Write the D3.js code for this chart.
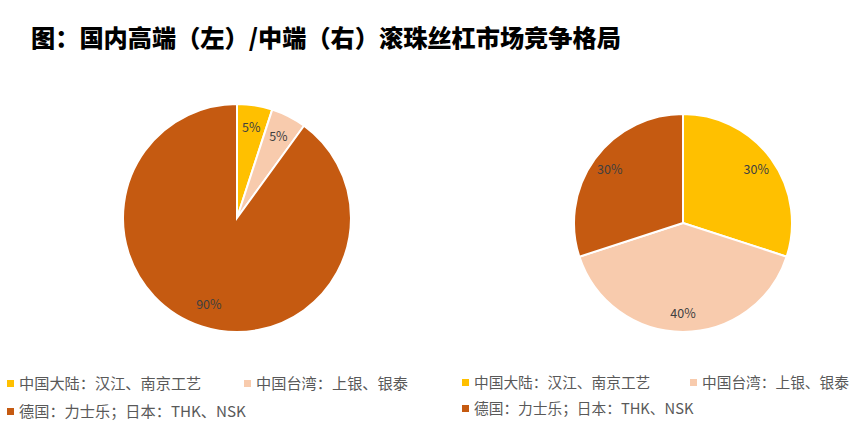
<!DOCTYPE html>
<html>
<head>
<meta charset="utf-8">
<script src="https://cdn.jsdelivr.net/npm/d3@7"></script>
<style>
  body { margin: 0; background: #fff; }
  svg { display: block; }
</style>
</head>
<body>
<div id="chart"></div>
<script>
const categories = ["中国大陆：汉江、南京工艺", "中国台湾：上银、银泰", "德国：力士乐；日本：THK、NSK"];
const highEndShare = [5, 5, 90];
const midEndShare = [30, 40, 30];
const colors = ["#FFC000", "#F8CBAD", "#C55A11"];

const width = 866, height = 439;
const svg = d3.select("#chart").append("svg")
    .attr("width", width)
    .attr("height", height);

svg.append("text")
    .attr("x", 31)
    .attr("y", 47)
    .attr("font-family", "'Noto Sans CJK SC', sans-serif")
    .attr("font-size", 24.2)
    .attr("font-weight", 900)
    .attr("fill", "#000")
    .text("图：国内高端（左）/中端（右）滚珠丝杠市场竞争格局");

const color = d3.scaleOrdinal().domain(categories).range(colors);

function drawPie(values, cx, cy, radius, labelRatio) {
    const rows = categories.map((c, i) => ({ name: c, value: values[i] }));
    const pie = d3.pie().sort(null).value(d => d.value);
    const arc = d3.arc().innerRadius(0).outerRadius(radius);
    const labelArc = d3.arc().innerRadius(radius * labelRatio).outerRadius(radius * labelRatio);

    const g = svg.append("g").attr("transform", `translate(${cx},${cy})`);

    g.selectAll("path")
        .data(pie(rows))
        .join("path")
        .attr("d", arc)
        .attr("fill", d => color(d.data.name))
        .attr("stroke", "#fff")
        .attr("stroke-width", 2);

    g.selectAll("text")
        .data(pie(rows))
        .join("text")
        .attr("transform", d => `translate(${labelArc.centroid(d)})`)
        .attr("text-anchor", "middle")
        .attr("dy", "0.35em")
        .attr("font-family", "'Noto Sans CJK SC', sans-serif")
        .attr("font-size", 12.5)
        .attr("fill", "#404040")
        .text(d => `${d.data.value}%`);
}

drawPie(highEndShare, 237, 218, 114, 0.8);
drawPie(midEndShare, 683, 223, 109, 0.83);

function drawLegend(x0, secondX, y0, rowGap, fontSize) {
    const positions = [[x0, y0], [secondX, y0], [x0, y0 + rowGap]];
    const legend = svg.append("g").attr("class", "legend");
    const items = legend.selectAll(".legend-item")
        .data(categories)
        .join("g")
        .attr("class", "legend-item")
        .attr("transform", (d, i) => `translate(${positions[i][0]},${positions[i][1]})`);

    items.append("rect")
        .attr("x", 0)
        .attr("y", -4)
        .attr("width", 7)
        .attr("height", 7)
        .attr("fill", d => color(d));

    items.append("text")
        .attr("x", 12)
        .attr("y", 0)
        .attr("dy", "0.35em")
        .attr("font-family", "'Noto Sans CJK SC', sans-serif")
        .attr("font-size", fontSize)
        .attr("fill", "#595959")
        .text(d => d);
}

drawLegend(7, 244, 384, 28, 15.2);
drawLegend(462, 690, 383, 26, 14.7);
</script>
</body>
</html>
